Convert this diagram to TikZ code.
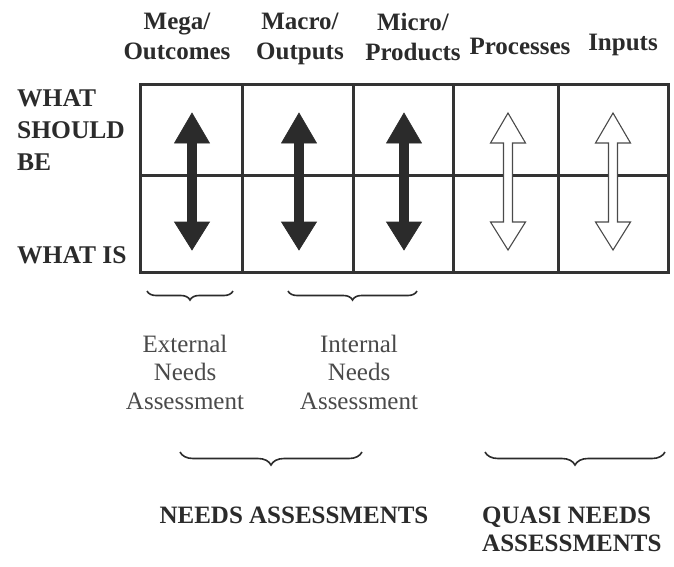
\documentclass[tikz,border=0pt]{standalone}
\usepackage{fontspec}
\setmainfont{Liberation Serif}
\usetikzlibrary{decorations.pathreplacing}
\definecolor{ink}{HTML}{2B2B2B}
\definecolor{softink}{HTML}{4A4A4A}
\definecolor{gridink}{HTML}{333333}
\begin{document}
\begin{tikzpicture}[x=1pt,y=-1pt,
  hdr/.style={font=\fontsize{25}{30}\selectfont\bfseries, text=ink, align=center, inner sep=0pt},
  side/.style={font=\fontsize{25.5}{32}\selectfont\bfseries, text=ink, align=left, inner sep=0pt, anchor=west},
  lower/.style={font=\fontsize{25}{28.5}\selectfont, text=softink, align=center, inner sep=0pt},
  bottom/.style={font=\fontsize{25}{28}\selectfont\bfseries, text=ink, inner sep=0pt},
  gridline/.style={draw=gridink, line width=3pt},
  fullarrow/.style={fill=ink, draw=ink, line width=0.6pt},
  hollowarrow/.style={fill=white, draw=softink, line width=1.1pt},
  bracestyle/.style={draw=ink, line width=1.6pt, decorate},
  dblarrow/.pic={\path[pic actions] (0,113) -- (17.5,143) -- (4.5,143) -- (4.5,222) -- (17.5,222) -- (0,250) -- (-17.5,222) -- (-4.5,222) -- (-4.5,143) -- (-17.5,143) -- cycle;}
]
\useasboundingbox (0,0) rectangle (674,566);
\fill[white] (0,0) rectangle (674,566);

% grid
\draw[gridline] (140,84) rectangle (668,272);
\draw[gridline] (140,175) -- (668,175);
\foreach \gx in {242,353,453,558} \draw[gridline] (\gx,84) -- (\gx,272);

% arrows
\pic[fullarrow] at (192,0) {dblarrow};
\pic[fullarrow] at (299,0) {dblarrow};
\pic[fullarrow] at (404,0) {dblarrow};
\pic[hollowarrow] at (508,0) {dblarrow};
\pic[hollowarrow] at (613,0) {dblarrow};

% column headers
\node[hdr] (mega) at (177,36) {Mega/\\Outcomes};
\node[hdr] (macro) at (300,39) {Macro/\\Outputs};
\node[hdr] (micro) at (413,37) {Micro/\\Products};
\node[hdr] (proc) at (520,46) {Processes};
\node[hdr] (inp) at (623,45) {Inputs};

% row labels
\node[side] (should) at (17,130) {WHAT\\SHOULD\\BE};
\node[side] (whatis) at (17,255) {WHAT IS};

% small braces
\coordinate (b1l) at (147,291); \coordinate (b1r) at (233,291);
\coordinate (b2l) at (288,291); \coordinate (b2r) at (417,291);
\draw[bracestyle, decoration={brace, mirror, amplitude=9pt}] (b1l) -- (b1r);
\draw[bracestyle, decoration={brace, mirror, amplitude=9pt}] (b2l) -- (b2r);
\node[lower] (ext) at (185,372) {External\\Needs\\Assessment};
\node[lower] (int) at (359,372) {Internal\\Needs\\Assessment};

% big braces
\coordinate (b3l) at (180,452); \coordinate (b3r) at (362,452);
\coordinate (b4l) at (485,452); \coordinate (b4r) at (665,452);
\draw[bracestyle, decoration={brace, mirror, amplitude=13pt}] (b3l) -- (b3r);
\draw[bracestyle, decoration={brace, mirror, amplitude=13pt}] (b4l) -- (b4r);
\node[bottom] (na) at (294,515) {NEEDS ASSESSMENTS};
\node[bottom, align=left, anchor=west] (qna) at (482,529) {QUASI NEEDS\\ASSESSMENTS};
\end{tikzpicture}
\end{document}
